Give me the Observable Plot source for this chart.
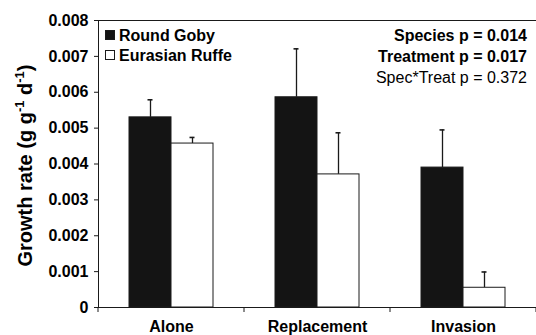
<!DOCTYPE html>
<html><head><meta charset="utf-8">
<script src="https://cdn.jsdelivr.net/npm/d3@7"></script>
<script src="https://cdn.jsdelivr.net/npm/@observablehq/plot@0.6"></script>
<style>
body{margin:0;background:#fff}
#chart svg{font-family:"Liberation Sans",Arial,Helvetica,sans-serif}
</style>
</head><body><div id="chart"></div>
<script>
const categories = ["Alone", "Replacement", "Invasion"];
const species = ["Round Goby", "Eurasian Ruffe"];
const gobyMean = [0.0053, 0.00586, 0.0039];
const gobySE = [0.00049, 0.00135, 0.00105];
const ruffeMean = [0.00457, 0.00371, 0.00055];
const ruffeSE = [0.00017, 0.00116, 0.00044];
const yTicks = [0, 0.001, 0.002, 0.003, 0.004, 0.005, 0.006, 0.007, 0.008];
const statLines = ["Species p = 0.014", "Treatment p = 0.017", "Spec*Treat p = 0.372"];
const statBold = [true, true, false];
const colors = ["#141414", "#ffffff"];

const rows = [];
categories.forEach((c, i) => {
  rows.push({category: c, species: species[0], mean: gobyMean[i], se: gobySE[i]});
  rows.push({category: c, species: species[1], mean: ruffeMean[i], se: ruffeSE[i]});
});

const ink = "#1a1a1a";
const plot = Plot.plot({
  width: 536, height: 335,
  marginLeft: 97, marginRight: 0, marginTop: 20, marginBottom: 28,
  style: {fontFamily: '"Liberation Sans",Arial,Helvetica,sans-serif', fontSize: "16px", fontWeight: "bold", color: "#000", background: "#fff"},
  fx: {domain: categories, padding: 0, label: null},
  x: {domain: species, paddingInner: 0, paddingOuter: 0.71, axis: null},
  y: {domain: [0, 0.008], label: null},
  color: {domain: species, range: colors},
  marks: [
    Plot.frame({anchor: "top", stroke: ink}),
    Plot.frame({anchor: "left", stroke: ink, facetAnchor: "left"}),
    Plot.ruleX(rows, {fx: "category", x: "species", y1: "mean", y2: d => d.mean + d.se, stroke: ink, strokeWidth: 1.3}),
    Plot.tickY(rows, {fx: "category", x: "species", y: d => d.mean + d.se, stroke: ink, strokeWidth: 1.6, insetLeft: 18.5, insetRight: 18.5}),
    Plot.barY(rows, {fx: "category", x: "species", y: "mean", fill: "species", stroke: ink, strokeWidth: 1, inset: 0}),
    Plot.ruleY([0], {stroke: ink}),
    Plot.axisY({ticks: yTicks, tickSize: 4, tickPadding: 6, tickFormat: d => String(d), label: null, stroke: ink}),
    Plot.axisFx({anchor: "bottom", tickSize: 0, tickPadding: 13, label: null})
  ]
});
document.getElementById("chart").append(plot);

const svg = d3.select(plot);
const fx = plot.scale("fx");
const y = plot.scale("y");
const y0 = y.apply(0);
const yTop = y.apply(0.008);
const left = fx.apply(categories[0]);
const right = fx.apply(categories[categories.length - 1]) + fx.bandwidth;

// category boundary ticks on the x axis
const bounds = categories.map(c => fx.apply(c)).concat([right]);
svg.append("g").selectAll("line").data(bounds).join("line")
  .attr("x1", d => d).attr("x2", d => d)
  .attr("y1", y0).attr("y2", y0 + 5)
  .attr("stroke", ink);

// y axis title with superscripts
const title = svg.append("text")
  .attr("transform", `translate(32,${(y0 + yTop) / 2 + 2}) rotate(-90)`)
  .attr("text-anchor", "middle")
  .attr("font-size", 20).attr("font-weight", "bold").attr("fill", "#000");
title.append("tspan").text("Growth rate (g g");
title.append("tspan").attr("font-size", 13).attr("dy", -8).text("-1");
title.append("tspan").attr("dy", 8).text(" d");
title.append("tspan").attr("font-size", 13).attr("dy", -8).text("-1");
title.append("tspan").attr("dy", 8).text(")");

// legend
const leg = svg.append("g").attr("transform", `translate(${left + 7},${yTop + 10})`);
species.forEach((s, i) => {
  const g = leg.append("g").attr("transform", `translate(0,${i * 20})`);
  g.append("rect").attr("x", 0.5).attr("y", 0.5).attr("width", 9).attr("height", 9)
    .attr("fill", colors[i]).attr("stroke", ink).attr("stroke-width", 1);
  g.append("text").attr("x", 14).attr("y", 5).attr("dy", "0.36em")
    .attr("text-anchor", "start")
    .attr("font-size", 16).attr("font-weight", "bold").attr("fill", "#000").text(s);
});

// statistics annotation
statLines.forEach((t, i) => {
  svg.append("text").attr("x", right - 9).attr("y", yTop + 21 + i * 20.8)
    .attr("text-anchor", "end").attr("font-size", 16)
    .attr("font-weight", statBold[i] ? "bold" : "normal").attr("fill", "#000").text(t);
});
</script>
</body></html>
